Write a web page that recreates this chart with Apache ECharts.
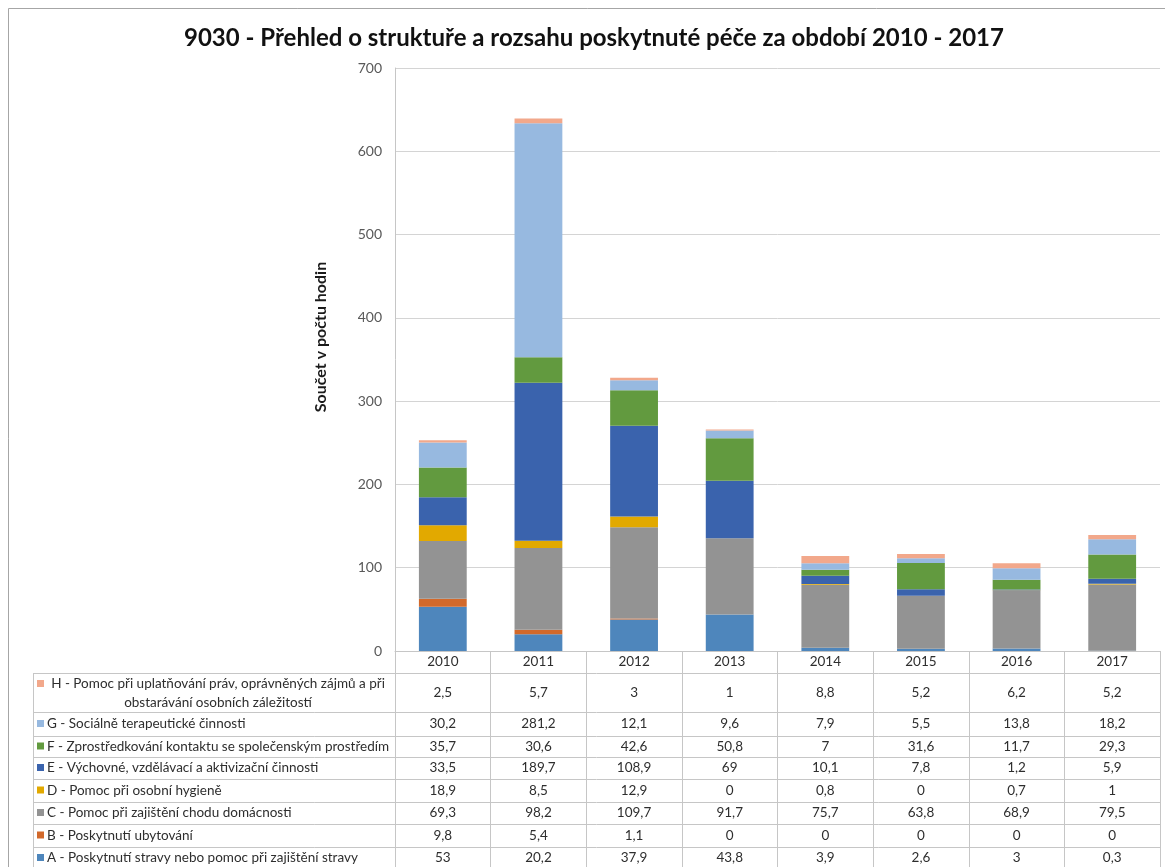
<!DOCTYPE html>
<html>
<head>
<meta charset="utf-8">
<title>9030 - Přehled o struktuře a rozsahu poskytnuté péče</title>
<script src="https://cdn.jsdelivr.net/npm/echarts@6/dist/echarts.min.js"></script>
<style>
  html, body { margin: 0; padding: 0; background: #ffffff; }
  #chart { width: 1165px; height: 867px; }
</style>
</head>
<body>
<div id="chart"></div>
<script>
// Years on the category axis
const years = ['2010', '2011', '2012', '2013', '2014', '2015', '2016', '2017'];

// Hours per type of care, one array per series (A at the bottom of the stack)
const valuesA = [53, 20.2, 37.9, 43.8, 3.9, 2.6, 3, 0.3];
const valuesB = [9.8, 5.4, 1.1, 0, 0, 0, 0, 0];
const valuesC = [69.3, 98.2, 109.7, 91.7, 75.7, 63.8, 68.9, 79.5];
const valuesD = [18.9, 8.5, 12.9, 0, 0.8, 0, 0.7, 1];
const valuesE = [33.5, 189.7, 108.9, 69, 10.1, 7.8, 1.2, 5.9];
const valuesF = [35.7, 30.6, 42.6, 50.8, 7, 31.6, 11.7, 29.3];
const valuesG = [30.2, 281.2, 12.1, 9.6, 7.9, 5.5, 13.8, 18.2];
const valuesH = [2.5, 5.7, 3, 1, 8.8, 5.2, 6.2, 5.2];

// Series labels
const nameA = 'A - Poskytnutí stravy nebo pomoc při zajištění stravy';
const nameB = 'B - Poskytnutí ubytování';
const nameC = 'C - Pomoc při zajištění chodu domácnosti';
const nameD = 'D - Pomoc při osobní hygieně';
const nameE = 'E - Výchovné, vzdělávací a aktivizační činnosti';
const nameF = 'F - Zprostředkování kontaktu se společenským prostředím';
const nameG = 'G - Sociálně terapeutické činnosti';
const nameH = 'H - Pomoc při uplatňování práv, oprávněných zájmů a při obstarávání osobních záležitostí';
const nameHLines = ['H - Pomoc při uplatňování práv, oprávněných zájmů a při', 'obstarávání osobních záležitostí'];

// Value axis ticks
const yMin = 0;
const yMax = 700;
const yStep = 100;

const colors = {
  A: '#4e86bc', B: '#d2692b', C: '#939393', D: '#e2a900',
  E: '#3a63ad', F: '#629a3f', G: '#97b9e0', H: '#f2a88b'
};

const stackSeries = [
  { key: 'A', name: nameA, data: valuesA },
  { key: 'B', name: nameB, data: valuesB },
  { key: 'C', name: nameC, data: valuesC },
  { key: 'D', name: nameD, data: valuesD },
  { key: 'E', name: nameE, data: valuesE },
  { key: 'F', name: nameF, data: valuesF },
  { key: 'G', name: nameG, data: valuesG },
  { key: 'H', name: nameH, data: valuesH }
];

// Data table layout (rows listed top to bottom)
const tableRows = stackSeries.slice().reverse();
const gridLeft = 395, gridRight = 1160, gridTop = 68, axisY = 651;
const tableLeft = 33;
const rowEdges = [673, 712, 736, 757, 779, 802, 824, 847, 869];
const FONT = 'Lato, "Open Sans", sans-serif';
const TABLE_FONT_SIZE = 13.5;
const TEXT_COLOR = '#2e2e2e';
const LINE_COLOR = '#c6c6c6';

const fmt = v => String(v).replace('.', ',');

const chart = echarts.init(document.getElementById('chart'), null, { renderer: 'canvas' });

const barSeries = stackSeries.map(s => ({
  name: s.name,
  type: 'bar',
  stack: 'total',
  barWidth: '50%',
  data: s.data,
  itemStyle: { color: colors[s.key] },
  emphasis: { disabled: true }
}));

// Values of the data table, centred in each year column
const tableSeries = {
  type: 'custom',
  name: 'table',
  coordinateSystem: 'cartesian2d',
  clip: false,
  silent: true,
  z: 5,
  encode: { x: 0, y: 1 },
  data: years.map((y, i) => [i, 0]),
  renderItem(params, api) {
    const i = api.value(0);
    const cx = api.coord([i, 0])[0];
    const children = tableRows.map((row, r) => ({
      type: 'text',
      style: {
        text: fmt(row.data[i]),
        x: cx,
        y: (rowEdges[r] + rowEdges[r + 1]) / 2,
        align: 'center',
        verticalAlign: 'middle',
        fontFamily: FONT,
        fontSize: TABLE_FONT_SIZE,
        fill: TEXT_COLOR
      }
    }));
    return { type: 'group', children };
  }
};

// Row header column with colour keys, row rules, frame and axis name
const graphics = [];
graphics.push({
  type: 'rect', silent: true, z: 0,
  shape: { x: 8.5, y: 8.5, width: 1200, height: 900 },
  style: { fill: 'none', stroke: '#a6a6a6', lineWidth: 1 }
});
rowEdges.forEach(y => {
  graphics.push({
    type: 'line', silent: true, z: 1,
    shape: { x1: tableLeft, y1: y + 0.5, x2: gridRight, y2: y + 0.5 },
    style: { stroke: LINE_COLOR, lineWidth: 1 }
  });
});
graphics.push({
  type: 'line', silent: true, z: 1,
  shape: { x1: tableLeft + 0.5, y1: rowEdges[0], x2: tableLeft + 0.5, y2: rowEdges[rowEdges.length - 1] },
  style: { stroke: LINE_COLOR, lineWidth: 1 }
});
tableRows.forEach((row, r) => {
  const yc = (rowEdges[r] + rowEdges[r + 1]) / 2;
  graphics.push({
    type: 'rect', silent: true, z: 2,
    shape: { x: 37, y: (row.key === 'H' ? rowEdges[r] + 7 : yc - 4), width: 7, height: 7 },
    style: { fill: colors[row.key] }
  });
  if (row.key === 'H') {
    nameHLines.forEach((line, k) => {
      graphics.push({
        type: 'text', silent: true, z: 2,
        style: {
          text: line, x: 218, y: rowEdges[r] + 11 + k * 19,
          align: 'center', verticalAlign: 'middle',
          fontFamily: FONT, fontSize: TABLE_FONT_SIZE, fill: TEXT_COLOR
        }
      });
    });
  } else {
    graphics.push({
      type: 'text', silent: true, z: 2,
      style: {
        text: row.name, x: 47, y: yc,
        align: 'left', verticalAlign: 'middle',
        fontFamily: FONT, fontSize: TABLE_FONT_SIZE, fill: TEXT_COLOR
      }
    });
  }
});
graphics.push({
  type: 'text', silent: true, z: 2,
  x: 321, y: 337, rotation: Math.PI / 2,
  style: {
    text: 'Součet v počtu hodin',
    align: 'center', verticalAlign: 'middle',
    fontFamily: FONT, fontSize: 16, fontWeight: 'bold', fill: '#1a1a1a'
  }
});

const option = {
  backgroundColor: '#ffffff',
  animation: false,
  title: {
    text: '9030 - Přehled o struktuře a rozsahu poskytnuté péče za období 2010 - 2017',
    left: 179,
    top: 21,
    textStyle: { fontFamily: FONT, fontSize: 24, fontWeight: 'bold', color: '#111111' }
  },
  legend: { show: false },
  tooltip: { show: false },
  grid: {
    left: gridLeft, right: 1165 - gridRight, top: gridTop, bottom: 867 - axisY,
    containLabel: false
  },
  xAxis: {
    type: 'category',
    data: years,
    boundaryGap: true,
    axisLine: { show: true, lineStyle: { color: LINE_COLOR } },
    axisTick: { show: true, interval: 0, length: rowEdges[rowEdges.length - 1] - axisY, lineStyle: { color: LINE_COLOR } },
    axisLabel: { margin: 4, fontFamily: FONT, fontSize: TABLE_FONT_SIZE, color: TEXT_COLOR },
    splitLine: { show: false }
  },
  yAxis: {
    type: 'value',
    min: yMin, max: yMax, interval: yStep,
    axisLine: { show: true, lineStyle: { color: LINE_COLOR } },
    axisTick: { show: false },
    axisLabel: { margin: 13, fontFamily: FONT, fontSize: 14, color: '#595959' },
    splitLine: { show: true, lineStyle: { color: '#d4d4d4' } }
  },
  graphic: graphics,
  series: [...barSeries, tableSeries]
};

chart.setOption(option);
</script>
</body>
</html>
